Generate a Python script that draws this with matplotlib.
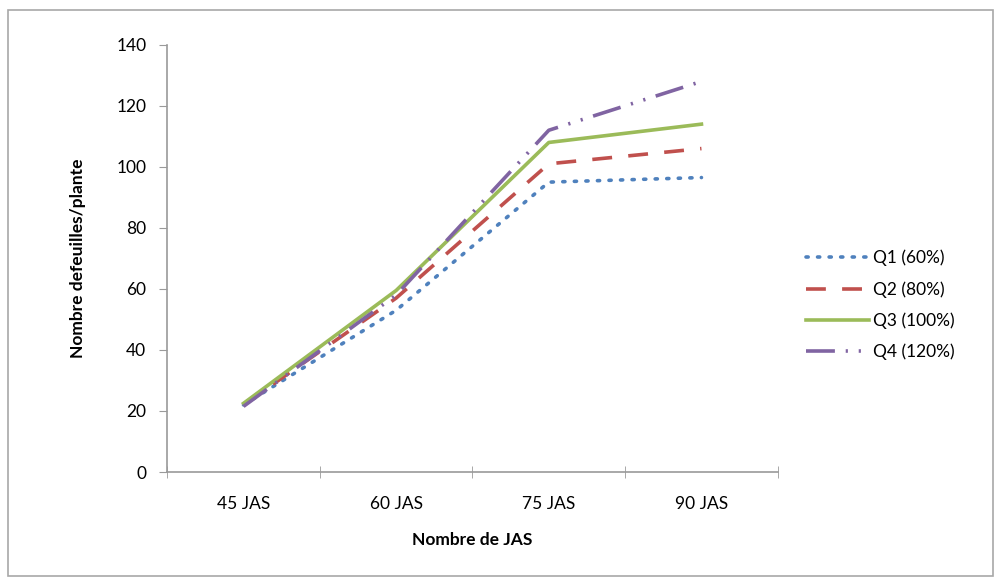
import matplotlib
matplotlib.use("Agg")
import matplotlib.pyplot as plt
from matplotlib.patches import Rectangle

# leaf counts per plant at each sampling date
jas = ["45 JAS", "60 JAS", "75 JAS", "90 JAS"]
q1 = [22, 53, 95, 96.5]
q2 = [22, 57, 101, 106]
q3 = [22.5, 59.5, 108, 114]
q4 = [21.5, 58, 112, 128]
labels = ["Q1 (60%)", "Q2 (80%)", "Q3 (100%)", "Q4 (120%)"]

plt.rcParams["font.family"] = ["Lato", "DejaVu Sans"]

fig = plt.figure(figsize=(10.01, 5.82), dpi=100)
ax = fig.add_axes([0.167, 0.189, 0.61, 0.734])

x = range(len(jas))
ax.plot(x, q1, color="#4F81BD", lw=2.6, dashes=(0.6, 2.6), dash_capstyle="round", label=labels[0])
ax.plot(x, q2, color="#C0504D", lw=2.6, dashes=(5.5, 4.5), label=labels[1])
ax.plot(x, q3, color="#9BBB59", lw=2.6, label=labels[2])
ax.plot(x, q4, color="#8064A2", lw=2.6, dashes=(8, 3, 0.6, 3, 0.6, 3), label=labels[3])

ax.set_xlim(-0.5, 3.5)
ax.set_ylim(0, 140)
ax.set_yticks(range(0, 141, 20))
ax.set_xticks(list(x))
ax.set_xticklabels(jas)
ax.set_xticks([-0.5, 0.5, 1.5, 2.5, 3.5], minor=True)

for side in ["top", "right"]:
    ax.spines[side].set_visible(False)
for side in ["left", "bottom"]:
    ax.spines[side].set_color("#9a9a9a")
    ax.spines[side].set_linewidth(1.2)

ax.tick_params(axis="x", which="major", length=0, pad=17, labelsize=12.5)
ax.tick_params(axis="x", which="minor", direction="inout", length=8, color="#9a9a9a")
ax.tick_params(axis="y", direction="out", length=6, color="#9a9a9a", pad=9, labelsize=12.5)

ax.set_xlabel("Nombre de JAS", fontsize=12.5, fontweight="bold", labelpad=15)
ax.set_ylabel("Nombre defeuilles/plante", fontsize=12.5, fontweight="bold", labelpad=22)

fig.legend(loc="center left", bbox_to_anchor=(0.79, 0.476), frameon=False,
           fontsize=12.5, handlelength=3.6, handletextpad=0.25, labelspacing=0.85)

# chart frame
fig.patches.append(Rectangle((0.008, 0.01), 0.984, 0.972, transform=fig.transFigure,
                             fill=False, edgecolor="#a8a8a8", lw=1.2))

fig.savefig("out.png", dpi=100)
